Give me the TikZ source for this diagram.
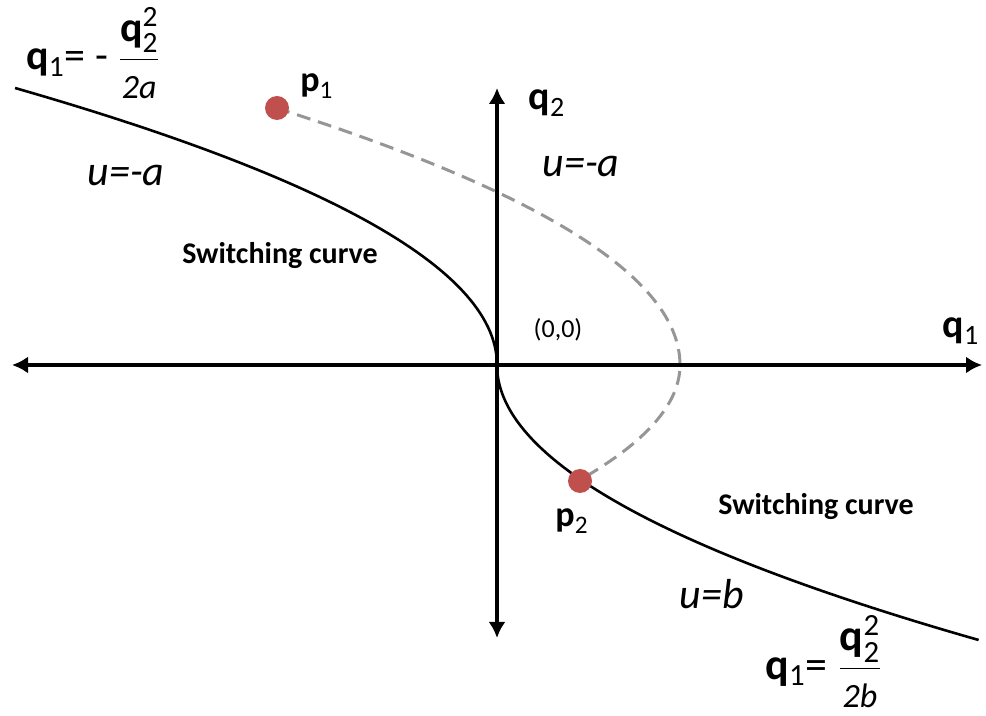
\documentclass[tikz,border=0pt]{standalone}
\usepackage{amsmath}
\usepackage{fontspec}
\setmainfont{Carlito}
\usetikzlibrary{arrows.meta}
\definecolor{dotred}{RGB}{192,80,77}
\definecolor{pathgray}{RGB}{150,150,150}
\newcommand{\qsq}[1]{\dfrac{\text{\textbf{q}}_{\text{2}}^{\text{2}}}{\text{\fontsize{17}{19}\selectfont\itshape #1}}}
\begin{document}
\begin{tikzpicture}[x=0.5pt,y=-0.5pt,
	axis/.style={line width=2.2pt,{Latex[length=8pt,width=8.5pt]}-{Latex[length=8pt,width=8.5pt]}},
	swcurve/.style={line width=1.3pt},
	traj/.style={line width=1.5pt,pathgray,dash pattern=on 7pt off 4pt},
	state/.style={circle,fill=dotred,inner sep=0pt,minimum size=12pt},
	lbl/.style={inner sep=0pt},
	region/.style={inner sep=0pt,font=\fontsize{21}{24}\selectfont\itshape},
	swlbl/.style={inner sep=0pt,font=\fontsize{15}{18}\selectfont\bfseries}]
	\useasboundingbox (0,0) rectangle (986,716);
	% Axes
	\coordinate (O) at (497,365);
	\coordinate (xl) at (12,365);
	\coordinate (xr) at (982,365);
	\coordinate (yt) at (497,88);
	\coordinate (yb) at (497,638);
	\draw[axis] (xl) -- (xr);
	\draw[axis] (yt) -- (yb);
	% Switching curves
	\draw[swcurve] (O) plot[domain=0:277,samples=60,variable=\t] ({497-(0.07925*\t)^2},{365-\t});
	\draw[swcurve] (O) plot[domain=0:275,samples=60,variable=\t] ({497+(0.0798*\t)^2},{365+\t});
	% Trajectory from p1 to p2
	\draw[traj] plot[domain=257:0,samples=60,variable=\t] ({680-(0.0782*\t)^2},{365-\t})
		-- plot[domain=0:116,samples=30,variable=\t] ({680-(0.0870*\t)^2},{365+\t});
	\node[state] (p1dot) at (277,108) {};
	\node[state] (p2dot) at (580,481) {};
	% Labels
	\node[lbl,font=\fontsize{18}{20}\selectfont,anchor=south west] (p1lab) at (300,99) {$\text{\textbf{p}}_{\text{1}}$};
	\node[lbl,font=\fontsize{18}{20}\selectfont] (p2lab) at (572,521) {$\text{\textbf{p}}_{\text{2}}$};
	\node[lbl,font=\fontsize{20}{22}\selectfont] (q2lab) at (547,103) {$\text{\textbf{q}}_{\text{2}}$};
	\node[lbl,font=\fontsize{20}{22}\selectfont] (q1lab) at (961,331) {$\text{\textbf{q}}_{\text{1}}$};
	\node[lbl,font=\fontsize{13}{16}\selectfont] (origin) at (558,330) {(0,0)};
	\node[region] (uleft) at (126,175) {u=-a};
	\node[region] (uright) at (581,166) {u=-a};
	\node[region] (ubottom) at (712,594) {u=b};
	\node[swlbl] (swleft) at (280,256) {Switching curve};
	\node[swlbl] (swright) at (816,507) {Switching curve};
	\node[lbl,font=\fontsize{21}{24}\selectfont,anchor=base west] (fleft) at (26,70)
		{\textbf{q}$_{\text{1}}$= - $\qsq{2a}$};
	\node[lbl,font=\fontsize{22}{25}\selectfont,anchor=base west] (fright) at (765,679)
		{\textbf{q}$_{\text{1}}$= $\qsq{2b}$};
\end{tikzpicture}
\end{document}
